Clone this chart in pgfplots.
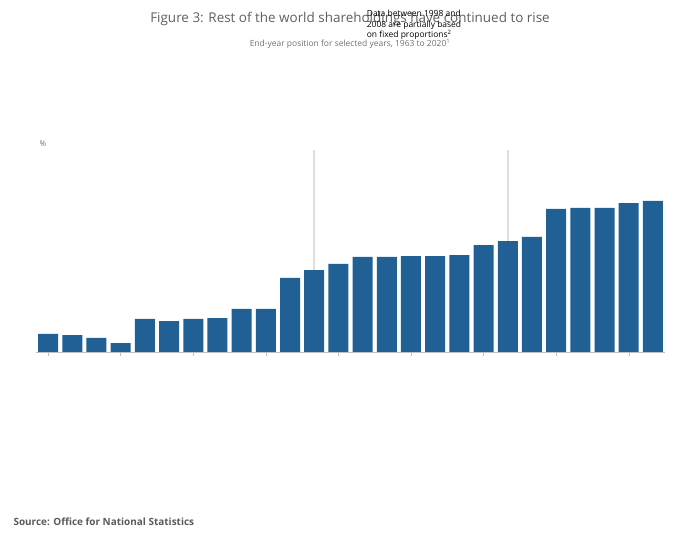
\documentclass[border=0pt]{standalone}
\usepackage{pgfplots}
\pgfplotsset{compat=1.18}
\usepackage{fontspec}
\setmainfont{Open Sans}
\definecolor{bar}{HTML}{206095}
\definecolor{txt}{HTML}{707070}
\begin{document}
\begin{tikzpicture}[x=1bp,y=1bp]
\path (0,0) rectangle (700,549);
\node[text=txt!85!black,font=\fontsize{13.5}{16}\selectfont] at (350,530) {Figure 3: Rest of the world shareholdings have continued to rise};
\node[text=txt,font=\fontsize{8.5}{10}\selectfont] at (350,505) {End-year position for selected years, 1963 to 2020\textsuperscript{1}};
\node[align=left,font=\fontsize{8.5}{10.5}\selectfont,text=black] at (414,524) {Data between 1998 and\\2008 are partially based\\on fixed proportions\textsuperscript{2}};
\node[anchor=west,text=txt!80!black,font=\bfseries\fontsize{10}{12}\selectfont] at (10,27) {Source: Office for National Statistics};
\begin{axis}[at={(36bp,197bp)},anchor=south west,scale only axis,width=629bp,height=202bp,
 ymin=0,ymax=75,xmin=-0.5,xmax=25.5,
 axis lines=none, clip=false,
 ytick={0,25,50,75}, ymajorgrids, grid style={gray!20},
 xtick={0,3,6,9,12,15,18,21,24},
 xticklabels={1963,1981,1991,1994,1999,2002,2006,2012,2018},
 tick label style={text=txt,font=\fontsize{8}{9}\selectfont},
 /pgf/number format/assume math mode=true,
 major tick length=0pt]
\addplot[gray!25,line width=1.5pt] coordinates {(11,0)(11,75)};
\addplot[gray!25,line width=1.5pt] coordinates {(19,0)(19,75)};
\addplot[ybar,bar width=20bp,fill=bar,draw=none] coordinates {
(0,6.7)(1,6.3)(2,5.2)(3,3.3)(4,12.3)(5,11.5)(6,12.3)(7,12.6)(8,16)(9,16)
(10,27.5)(11,30.4)(12,32.7)(13,35.3)(14,35.3)(15,35.6)(16,35.6)(17,36)
(18,39.7)(19,41.2)(20,42.7)(21,53.1)(22,53.5)(23,53.5)(24,55.3)(25,56.1)};
\draw[gray!50] (axis cs:-0.5,0) -- (axis cs:25.5,0);
\pgfplotsinvokeforeach{0,3,...,24}{\draw[gray!50] (axis cs:#1,0) -- (axis cs:#1,-1.5);}
\node[text=txt,font=\fontsize{8}{9}\selectfont,anchor=south west] at (axis cs:-0.5,75) {\%};
\end{axis}
\end{tikzpicture}
\end{document}
